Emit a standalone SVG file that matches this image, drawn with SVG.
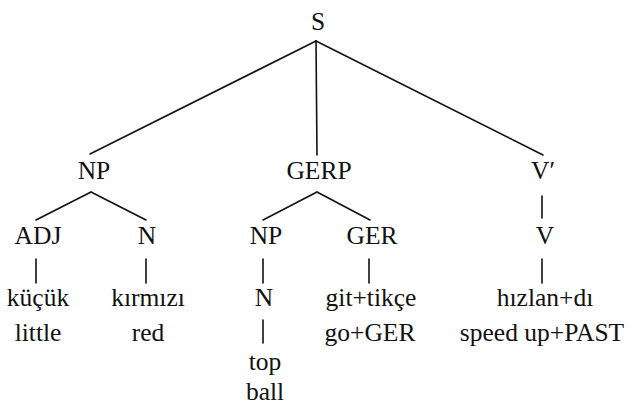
<svg xmlns="http://www.w3.org/2000/svg" width="631" height="407" viewBox="0 0 631 407">
  <style>
    text { font-family: 'Liberation Serif', 'DejaVu Serif', serif; font-size: 25.5px; fill: #111; text-anchor: middle; }
    .edge { stroke: #111; stroke-width: 1.6; fill: none; stroke-linecap: round; }
  </style>
  <rect width="631" height="407" fill="#fff"/>

  <!-- tree branches -->
  <g id="connectors">
    <line class="edge" x1="316" y1="41" x2="90" y2="154"/>
    <line class="edge" x1="316" y1="41" x2="317" y2="155"/>
    <line class="edge" x1="316" y1="41" x2="543" y2="155"/>
    <line class="edge" x1="91" y1="192" x2="36" y2="220"/>
    <line class="edge" x1="91" y1="192" x2="146" y2="220"/>
    <line class="edge" x1="317" y1="192" x2="263" y2="220"/>
    <line class="edge" x1="317" y1="192" x2="370" y2="220"/>
    <line class="edge" x1="542" y1="196" x2="542" y2="218"/>
    <line class="edge" x1="36" y1="259" x2="36" y2="283"/>
    <line class="edge" x1="146" y1="259" x2="146" y2="283"/>
    <line class="edge" x1="263" y1="259" x2="263" y2="283"/>
    <line class="edge" x1="369" y1="259" x2="369" y2="283"/>
    <line class="edge" x1="542" y1="259" x2="542" y2="283"/>
    <line class="edge" x1="263" y1="320" x2="263" y2="343"/>
  </g>

  <g id="S"><text x="318" y="30">S</text></g>
  <g id="NP1"><text x="94" y="179">NP</text></g>
  <g id="GERP"><text x="319" y="179">GERP</text></g>
  <g id="Vbar"><text x="543" y="179">V′</text></g>
  <g id="ADJ"><text x="38" y="244">ADJ</text></g>
  <g id="N1"><text x="147" y="244">N</text></g>
  <g id="NP2"><text x="266" y="244">NP</text></g>
  <g id="GER"><text x="372" y="244">GER</text></g>
  <g id="V"><text x="545" y="244">V</text></g>

  <g id="kucuk"><text x="38" y="306">küçük</text><text x="38" y="341">little</text></g>
  <g id="kirmizi"><text x="148" y="306">kırmızı</text><text x="148" y="341">red</text></g>
  <g id="N2"><text x="264" y="306">N</text></g>
  <g id="gittikce"><text x="371" y="306">git+tikçe</text><text x="370" y="341">go+GER</text></g>
  <g id="hizlandi"><text x="545" y="306">hızlan+dı</text><text x="542" y="341">speed up+PAST</text></g>
  <g id="top"><text x="265" y="370">top</text><text x="265" y="400">ball</text></g>
</svg>
